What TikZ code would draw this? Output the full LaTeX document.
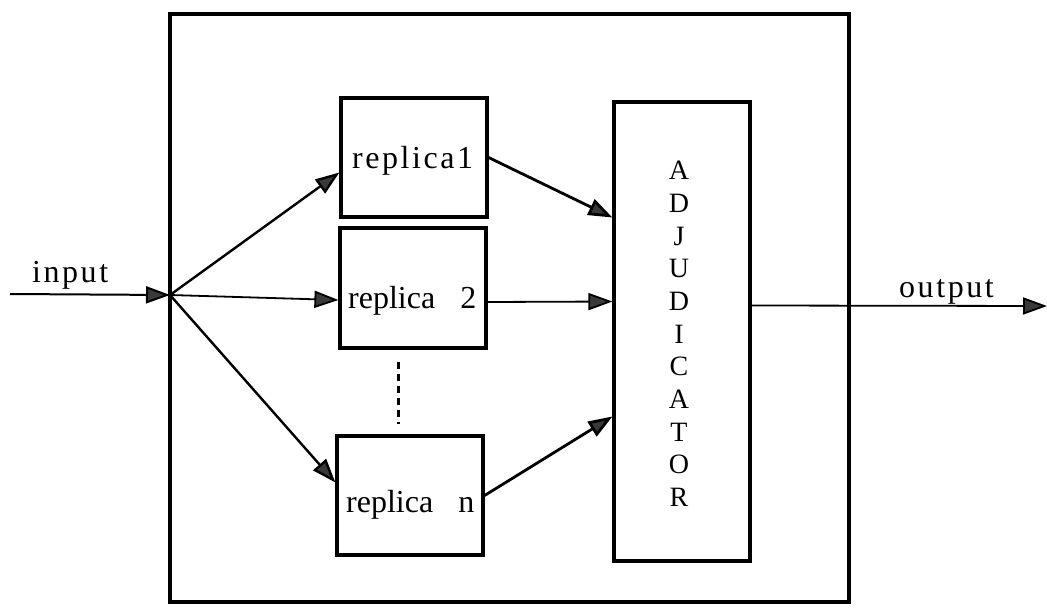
\documentclass[tikz,border=0pt]{standalone}
\usepackage{fontspec}
\setmainfont{Liberation Serif}
\newfontfamily\wideface[LetterSpace=8]{Liberation Serif}
\usetikzlibrary{arrows.meta,calc}
\begin{document}
\begin{tikzpicture}[x=1pt,y=-1pt,
  box/.style={draw, line width=3.2pt, inner sep=0pt, minimum width=146pt, minimum height=120pt},
  arr/.style={line width=2.4pt, -{Triangle[length=24pt,width=17pt,fill=gray!45!black]}},
  wtext/.style={inner sep=0pt, anchor=base west, font=\fontsize{32}{36}\selectfont\wideface},
  ntext/.style={inner sep=0pt, anchor=base west, font=\fontsize{32}{36}\selectfont},
]
\useasboundingbox (0,0) rectangle (1047,610);
% outer frame
\node[draw, line width=3.4pt, minimum width=679pt, minimum height=588pt, inner sep=0pt] (outer) at (509.5,308) {};
% replicas
\node[box, minimum height=119pt] (r1) at (414,157.5) {};
\node[box] (r2) at (413,288) {};
\node[box, minimum height=119pt] (rn) at (410,495.5) {};
% adjudicator
\node[box, minimum width=136pt, minimum height=459pt] (adj) at (682,331.5) {};
% texts
\node[wtext] (t1) at (352,168) {replica1};
\node[ntext] (t2) at (348,308) {replica\hspace{25pt}2};
\node[ntext] (tn) at (346,512) {replica\hspace{25pt}n};
\node[inner sep=0pt, anchor=north, align=center, font=\fontsize{28}{32.7}\selectfont] (adjt) at (679,161) {A\\D\\J\\U\\D\\I\\C\\A\\T\\O\\R};
\node[wtext] (tin) at (32,282) {input};
\node[wtext] (tout) at (899,297) {output};
% connection points
\coordinate (src) at (10,294);
\coordinate (fan) at (170,295);
\coordinate (sink) at (1047,306);
% dashed continuation
\coordinate (d1) at (398,362);
\coordinate (d2) at (398,424);
\draw[line width=3pt, dash pattern=on 7pt off 5pt] (d1) -- (d2);
% arrows
\draw[arr, line width=2pt] (src) -- (fan);
\draw[arr] (fan) -- ($(r1.west)+(0,15)$);
\draw[arr, line width=1.8pt] (fan) -- ($(r2.west)+(0,12)$);
\draw[arr] (fan) -- ($(rn.west)+(0,-13)$);
\draw[arr, line width=2.8pt] (r1.east) -- ($(adj.west)+(0,-114)$);
\draw[arr, line width=1.8pt] ($(r2.east)+(0,14)$) -- ($(adj.west)+(0,-30)$);
\draw[arr, line width=2.8pt] (rn.east) -- ($(adj.west)+(0,85)$);
\draw[arr, line width=1.8pt] ($(adj.east)+(0,-26)$) -- (sink);
\end{tikzpicture}
\end{document}
